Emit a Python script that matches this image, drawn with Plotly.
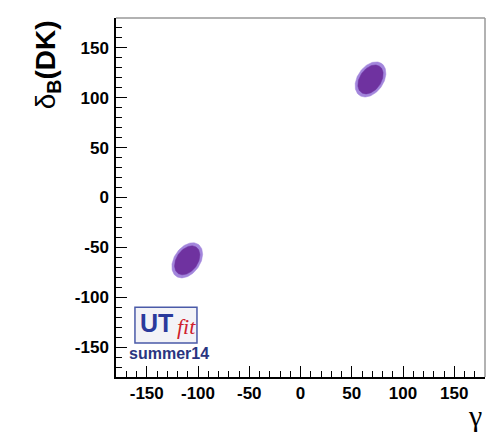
import numpy as np
import plotly.graph_objects as go

# ---- data ----
centers_gamma = [68.3, -110.5]        # gamma of the two solutions
centers_delta = [118.4, -63.0]        # delta_B(DK) of the two solutions
outer_semi_major = 19.3               # 95% region
outer_semi_minor = 12.8
inner_semi_major = 15.9               # 68% region
inner_semi_minor = 10.5
tilt_deg = 57.0
x_ticks = [-150, -100, -50, 0, 50, 100, 150]
y_ticks = [-150, -100, -50, 0, 50, 100, 150]

outer_color = "#a386dc"
inner_color = "#6f32a0"


def ellipse(cx, cy, a, b, ang_deg, n=120):
    t = np.linspace(0, 2 * np.pi, n)
    th = np.deg2rad(ang_deg)
    x = cx + a * np.cos(t) * np.cos(th) - b * np.sin(t) * np.sin(th)
    y = cy + a * np.cos(t) * np.sin(th) + b * np.sin(t) * np.cos(th)
    return x, y


fig = go.Figure()
for cx, cy in zip(centers_gamma, centers_delta):
    for a, b, col in [(outer_semi_major, outer_semi_minor, outer_color),
                      (inner_semi_major, inner_semi_minor, inner_color)]:
        x, y = ellipse(cx, cy, a, b, tilt_deg)
        fig.add_trace(go.Scatter(x=x, y=y, mode="lines", fill="toself",
                                 fillcolor=col, line=dict(color=col, width=0.5),
                                 hoverinfo="skip", showlegend=False))

tickfont = dict(family="Liberation Sans, Arial, sans-serif", size=17,
                color="black", weight="bold")
axis_common = dict(range=[-180, 180], showgrid=False, zeroline=False,
                   showline=True, linecolor="black", linewidth=1.5,
                   ticks="inside", ticklen=11, tickwidth=1.3, tickcolor="black",
                   tickfont=tickfont, mirror=False,
                   minor=dict(dtick=10, ticks="inside", ticklen=6,
                              tickwidth=1.1, tickcolor="black"))

fig.update_layout(
    width=489, height=446,
    margin=dict(l=116, r=4, t=18, b=69),
    paper_bgcolor="white", plot_bgcolor="white",
    xaxis=dict(**axis_common, tickvals=x_ticks, ticktext=[str(v) for v in x_ticks]),
    yaxis=dict(**axis_common, tickvals=y_ticks, ticktext=[str(v) for v in y_ticks],
               ticklabelstandoff=2),
)

# gray top/right frame
fig.add_shape(type="line", xref="paper", yref="paper", x0=0, x1=1, y0=1, y1=1,
              line=dict(color="#999999", width=1.5))
fig.add_shape(type="line", xref="paper", yref="paper", x0=1, x1=1, y0=0, y1=1,
              line=dict(color="#999999", width=1.5))

# axis titles
fig.add_annotation(xref="paper", yref="paper", x=-0.185, y=1.0,
                   xanchor="center", yanchor="top", textangle=-90, showarrow=False,
                   text="δ<sub><b>B</b></sub><b>(DK)</b>",
                   font=dict(family="Liberation Sans, Arial, sans-serif", size=28, color="black"))
fig.add_annotation(xref="paper", yref="paper", x=0.973, y=-0.055,
                   xanchor="center", yanchor="top", showarrow=False,
                   text="γ",
                   font=dict(family="Liberation Serif, Times New Roman, serif", size=30, color="black"))

# UTfit logo
fig.add_shape(type="rect", xref="x", yref="y", x0=-161.5, x1=-101, y0=-146, y1=-110,
              line=dict(color="#4a5aa8", width=1.5), fillcolor="#f3f3f7")
fig.add_annotation(xref="x", yref="y", x=-140.5, y=-126, showarrow=False,
                   text="<b>UT</b>",
                   font=dict(family="Liberation Sans, Arial, sans-serif", size=25, color="#2a3a9c"))
fig.add_annotation(xref="x", yref="y", x=-111.5, y=-129.5, showarrow=False,
                   text="<i>fit</i>",
                   font=dict(family="Liberation Serif, Times New Roman, serif", size=22, color="#d0202c"))
fig.add_annotation(xref="x", yref="y", x=-128.5, y=-156, showarrow=False,
                   text="<b>summer14</b>",
                   font=dict(family="Liberation Sans, Arial, sans-serif", size=16, color="#2a3580"))

fig.write_html("out.html")
